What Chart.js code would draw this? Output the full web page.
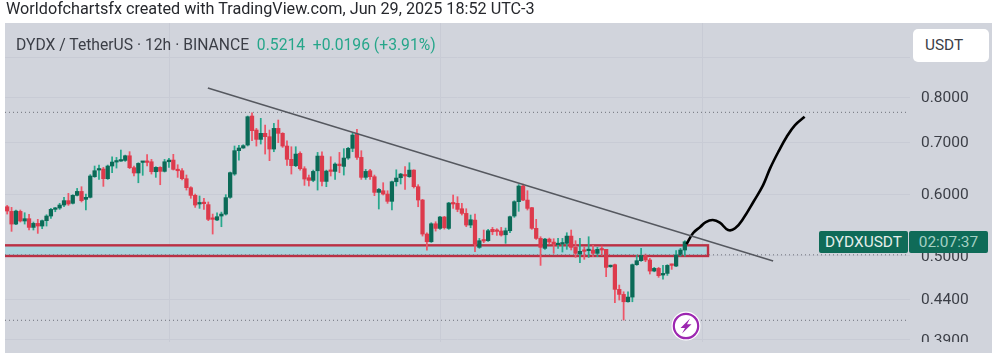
<!DOCTYPE html>
<html>
<head>
<meta charset="utf-8">
<title>DYDX / TetherUS</title>
<script src="https://cdn.jsdelivr.net/npm/chart.js@4/dist/chart.umd.min.js"></script>
<style>
  body { margin: 0; background: #fff; font-family: Roboto, sans-serif; }
  #page { position: relative; width: 992px; height: 353px; overflow: hidden; }
  #panel { position: absolute; left: 5px; top: 23px; width: 987px; height: 330px; background: #d1d4dc; }
  #wrap { position: absolute; left: 0; top: 0; width: 992px; height: 353px; filter: blur(0.4px); }
  #bottomBand { position: absolute; left: 5px; top: 342px; width: 987px; height: 11px; background: #d1d4dc; }
  #credit { position: absolute; left: 6px; top: -1px; font-size: 16.2px; color: #26282d; white-space: nowrap; }
  #legendText { position: absolute; left: 16px; top: 35px; font-size: 15.7px; color: #3b3e46; white-space: nowrap; }
  #legendText span { color: #26a68a; }
  #unit { position: absolute; left: 913px; top: 29px; width: 64px; height: 33px; padding-left: 12px; line-height: 33px;
          background: #fff; border-radius: 5px; font-size: 15.4px; color: #3b3e46; }
  .badge { position: absolute; top: 231px; height: 22px; line-height: 22px; background: #0f6b58; border-radius: 2px;
           font-size: 15.4px; text-align: center; }
  #symbol { left: 819px; width: 89px; color: #e4eeeb; }
  #timer { left: 909px; width: 79px; color: #a4d0c4; }
  #bolt { position: absolute; left: 671px; top: 311px; }
</style>
</head>
<body>
<div id="page">
  <div id="panel"></div>
  <div id="wrap"><canvas id="dydxChart"></canvas></div>
  <div id="bottomBand"></div>
  <div id="credit">Worldofchartsfx created with TradingView.com, Jun 29, 2025 18:52 UTC-3</div>
  <div id="legendText">DYDX / TetherUS · 12h · BINANCE &nbsp;<span>0.5214 &nbsp;+0.0196 (+3.91%)</span></div>
  <div id="unit">USDT</div>
  <div class="badge" id="symbol">DYDXUSDT</div>
  <div class="badge" id="timer">02:07:37</div>
  <svg id="bolt" width="30" height="30" viewBox="0 0 30 30">
    <circle cx="15" cy="15" r="14.5" fill="#fff"/>
    <circle cx="15" cy="15" r="12.2" fill="none" stroke="#9c27b0" stroke-width="2.2"/>
    <path d="M19 7.5 L9.5 17 L14 17 L11 22.5 L20.5 13.2 L16 13.2 Z" fill="#9c27b0"/>
  </svg>
</div>
<script>
const opens = [
  .5783, .5704, .5494, .5704, .5544, .5582, .5440, .5505, .5462, .5549, .5626, .5738, .5761, .5812, .5888, .5842,
  .5981, .6051, .5911, .5946, .6320, .6446, .6465, .6283, .6523, .6600, .6619, .6632, .6724, .6491, .6390, .6593,
  .6613, .6606, .6414, .6497, .6421, .6606, .6639, .6459, .6433, .6283, .6118, .5981, .5830, .5842, .5819, .5587,
  .5560, .5626, .5659, .5946, .6370, .6826, .6880, .6941, .7563, .7256, .7058, .7185, .7114, .6859, .7291, .7185,
  .6920, .6653, .6529, .6771, .6471, .6301, .6252, .6432, .6718, .6233, .6439, .6420, .6561, .6516, .6679, .6873,
  .7171, .6692, .6308, .6432, .6320, .6034, .6063, .6004, .5876, .6227, .6301, .6345, .6320, .6445, .6136, .5899,
  .5334, .5214, .5499, .5424, .5610, .5424, .5841, .5841, .5749, .5670, .5478, .5559, .5128, .5230, .5230, .5409,
  .5398, .5382, .5323, .5387, .5626, .5870, .6148, .5898, .5767, .5425, .5266, .5113, .5255, .5209, .5169, .5179,
  .5189, .5302, .5128, .5028, .5078, .5078, .5088, .5038, .5098, .5098, .4843, .4872, .4529, .4462, .4366, .4427,
  .4872, .4930, .4998, .4940, .4781, .4819, .4725, .4748, .4872, .4852, .5013, .5088
];
const closes = [
  .5710, .5494, .5710, .5544, .5582, .5440, .5505, .5462, .5549, .5626, .5738, .5761, .5812, .5888, .5830, .5981,
  .6051, .5888, .5946, .6333, .6433, .6472, .6283, .6523, .6600, .6619, .6639, .6724, .6491, .6390, .6574, .6606,
  .6593, .6414, .6497, .6421, .6606, .6639, .6459, .6433, .6283, .6118, .5981, .5812, .5842, .5836, .5571, .5571,
  .5615, .5659, .5941, .6396, .6826, .6880, .6928, .7547, .7242, .7058, .7185, .7114, .6859, .7291, .7185, .6920,
  .6653, .6529, .6758, .6471, .6277, .6252, .6420, .6718, .6233, .6426, .6420, .6561, .6529, .6679, .6873, .7149,
  .6692, .6308, .6420, .6320, .6034, .6087, .6004, .5876, .6227, .6295, .6370, .6333, .6445, .6136, .5899, .5334,
  .5214, .5499, .5424, .5610, .5435, .5847, .5830, .5738, .5670, .5478, .5565, .5178, .5230, .5225, .5387, .5371,
  .5376, .5318, .5387, .5615, .5870, .6148, .5898, .5755, .5425, .5266, .5128, .5255, .5209, .5179, .5189, .5199,
  .5302, .5128, .5038, .5068, .5068, .5088, .5038, .5098, .5088, .4833, .4862, .4529, .4462, .4366, .4427, .4872,
  .4930, .5008, .4940, .4781, .4819, .4716, .4748, .4862, .4862, .5013, .5088, .5214
];
const highs = [
  .5806, .5772, .5727, .5727, .5681, .5654, .5527, .5571, .5560, .5648, .5755, .5772, .5842, .5946, .6016, .5993,
  .6105, .6136, .6004, .6358, .6523, .6542, .6497, .6542, .6704, .6691, .6839, .6737, .6806, .6523, .6587, .6613,
  .6746, .6652, .6510, .6510, .6652, .6671, .6753, .6548, .6472, .6352, .6136, .6004, .5970, .5929, .5865, .5659,
  .5681, .5692, .5993, .6408, .6921, .6934, .6948, .7563, .7637, .7291, .7511, .7363, .7256, .7400, .7474, .7199,
  .7030, .6906, .6906, .6805, .6510, .6351, .6445, .6791, .6805, .6445, .6705, .6587, .6791, .6866, .6893, .7185,
  .7270, .6825, .6458, .6458, .6351, .6105, .6209, .6063, .6239, .6451, .6383, .6510, .6587, .6451, .6173, .5911,
  .5354, .5516, .5532, .5621, .5621, .5859, .5987, .5957, .5841, .5749, .5643, .5659, .5266, .5398, .5409, .5440,
  .5419, .5440, .5430, .5626, .5886, .6173, .6185, .6064, .5772, .5571, .5292, .5266, .5271, .5261, .5266, .5266,
  .5355, .5398, .5230, .5266, .5138, .5292, .5158, .5128, .5148, .5098, .4867, .4882, .4587, .4497, .4497, .4882,
  .5008, .5113, .5028, .4964, .4833, .4833, .4862, .4872, .4882, .5078, .5113, .5230
];
const lows = [
  .5659, .5377, .5483, .5527, .5494, .5398, .5398, .5345, .5419, .5462, .5587, .5698, .5738, .5783, .5806, .5830,
  .5970, .5865, .5727, .5935, .6308, .6270, .6142, .6270, .6396, .6484, .6613, .6613, .6472, .6333, .6208, .6346,
  .6523, .6370, .6308, .6172, .6408, .6497, .6446, .6308, .6258, .6075, .5929, .5772, .5755, .5738, .5549, .5334,
  .5549, .5451, .5642, .5929, .6346, .6639, .6873, .6921, .7030, .6920, .6961, .6758, .6627, .6805, .6989, .6893,
  .6536, .6370, .6510, .6445, .6160, .6148, .6227, .6075, .6148, .6136, .6333, .6270, .6395, .6351, .6653, .6805,
  .6653, .6270, .6270, .6270, .5975, .5744, .5987, .5841, .5727, .6148, .6185, .6087, .6308, .6112, .5783, .5302,
  .5087, .5204, .5381, .5408, .5413, .5408, .5755, .5698, .5643, .5451, .5435, .5062, .5113, .5199, .5220, .5323,
  .5313, .5302, .5189, .5355, .5604, .5705, .5886, .5727, .5409, .5250, .4862, .5098, .5179, .5038, .5113, .5058,
  .5098, .5088, .4978, .4901, .4950, .4978, .4988, .4988, .5008, .4702, .4833, .4354, .4388, .4136, .4362, .4366,
  .4862, .4920, .4915, .4739, .4771, .4693, .4666, .4720, .4805, .4843, .4998, .4998
];

const yTicks = [0.9, 0.8, 0.7, 0.6, 0.5, 0.44, 0.39];
const yTickLabels = ["", "0.8000", "0.7000", "0.6000", "0.5000", "0.4400", "0.3900"];
const xGridIndex = [37.2, 99, 159.1];

const levels = [0.7646, 0.5016, 0.4133];
const zoneTop = 0.5159;
const zoneBottom = 0.4999;
const zoneEndIndex = 160.3;

const trendPoints = [{ x: 45.9, y: 0.8216 }, { x: 175.2, y: 0.4925 }];
const sketchPoints = [
  { x: 155.4, y: 0.5178 }, { x: 156.9, y: 0.5350 }, { x: 158.5, y: 0.5446 }, { x: 159.8, y: 0.5527 },
  { x: 161.4, y: 0.5560 }, { x: 163.0, y: 0.5518 }, { x: 164.9, y: 0.5398 }, { x: 166.5, y: 0.5425 },
  { x: 168.4, y: 0.5588 }, { x: 170.7, y: 0.5869 }, { x: 172.9, y: 0.6166 }, { x: 174.5, y: 0.6478 },
  { x: 176.4, y: 0.6805 }, { x: 178.3, y: 0.7113 }, { x: 180.2, y: 0.7364 }, { x: 182.4, y: 0.7547 }
];

// 156 candles plus the empty right-hand side of the chart
const labels = Array.from({ length: 207 }, (_, i) => i);

const isUp = (i) => closes[i] >= opens[i];
const bodyColors = opens.map((_, i) => isUp(i) ? "#0b6a57" : "#dd3a4c");
const wickColors = opens.map((_, i) => isUp(i) ? "#27a88c" : "#ee5567");

// the red box behind the candles
const zonePlugin = {
  id: "zone",
  beforeDatasetsDraw(chart) {
    const { ctx, chartArea, scales } = chart;
    const left = chartArea.left - 10;
    const right = scales.xl.getPixelForValue(zoneEndIndex);
    const top = scales.y.getPixelForValue(zoneTop);
    const bottom = scales.y.getPixelForValue(zoneBottom);
    ctx.save();
    ctx.beginPath();
    ctx.rect(chartArea.left, chartArea.top, chartArea.width, chartArea.height);
    ctx.clip();
    ctx.fillStyle = "#add3dd";
    ctx.strokeStyle = "#bb3044";
    ctx.lineWidth = 2.4;
    ctx.fillRect(left, top, right - left, bottom - top);
    ctx.strokeRect(left, top, right - left, bottom - top);
    ctx.restore();
  }
};

const levelDatasets = levels.map((price) => ({
  type: "line",
  xAxisID: "xl",
  data: [{ x: -0.5, y: price }, { x: 205.8, y: price }],
  borderColor: "#6d7079",
  borderWidth: 1,
  borderDash: [1, 3],
  pointRadius: 0,
  order: 1
}));

new Chart(document.getElementById("dydxChart"), {
  type: "bar",
  plugins: [zonePlugin],
  data: {
    labels: labels,
    datasets: [
      ...levelDatasets,
      {
        type: "line",
        xAxisID: "xl",
        data: trendPoints,
        borderColor: "#55585f",
        borderWidth: 1.4,
        pointRadius: 0,
        order: 0
      },
      {
        type: "line",
        xAxisID: "xl",
        data: sketchPoints,
        borderColor: "#000",
        borderWidth: 2.6,
        tension: 0.4,
        pointRadius: 0,
        order: 0
      },
      {
        data: opens.map((o, i) => [o, closes[i]]),
        backgroundColor: bodyColors,
        barThickness: 3.6,
        minBarLength: 1.5,
        grouped: false,
        order: 2
      },
      {
        data: lows.map((l, i) => [l, highs[i]]),
        backgroundColor: wickColors,
        barThickness: 1.1,
        grouped: false,
        order: 3
      }
    ]
  },
  options: {
    responsive: true,
    maintainAspectRatio: false,
    animation: false,
    layout: { padding: { left: 5, top: 23, bottom: 11, right: 0 } },
    plugins: { legend: { display: false }, tooltip: { enabled: false } },
    scales: {
      x: { display: false },
      xl: {
        type: "linear",
        position: "bottom",
        axis: "x",
        offset: false,
        min: -0.5,
        max: 206.5,
        afterBuildTicks: (scale) => { scale.ticks = xGridIndex.map((v) => ({ value: v })); },
        afterFit: (scale) => { scale.height = 0; },
        ticks: { display: false, autoSkip: false },
        grid: { color: "#c8cbd5", drawTicks: false, offset: false },
        border: { display: false }
      },
      y: {
        type: "logarithmic",
        position: "right",
        min: 0.3876,
        max: 0.9958,
        afterBuildTicks: (scale) => { scale.ticks = yTicks.map((v) => ({ value: v })); },
        afterFit: (scale) => {
          scale.width = 82;
          // tick padding would otherwise push the plot bottom up by about 20px
          scale.paddingTop = 0;
          scale.paddingBottom = 0;
        },
        ticks: {
          autoSkip: false,
          padding: 11,
          labelOffset: 1.2,
          color: "#3b3e46",
          font: { family: "Roboto", size: 15.5 },
          callback: (value) => yTickLabels[yTicks.indexOf(value)]
        },
        grid: { color: "#c8cbd5", drawTicks: false },
        border: { display: false }
      }
    }
  }
});
</script>
</body>
</html>
